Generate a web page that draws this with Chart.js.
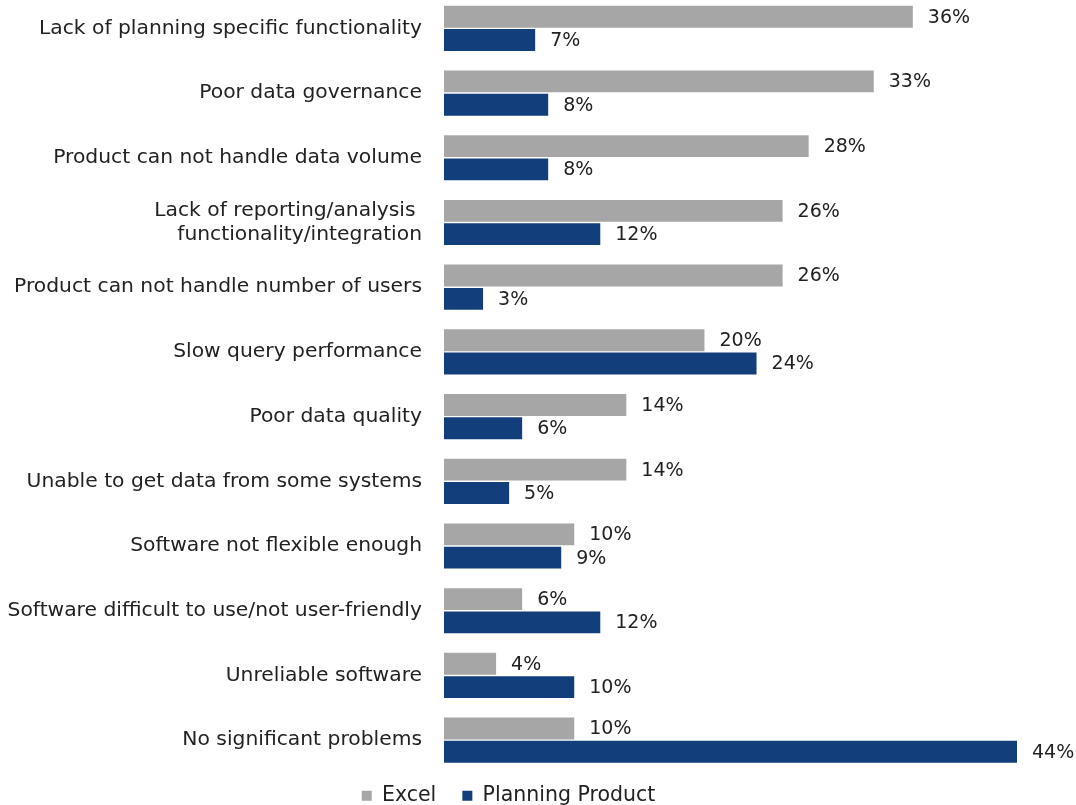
<!DOCTYPE html>
<html>
<head>
<meta charset="utf-8">
<title>Problems with Excel vs Planning Product</title>
<script src="https://cdn.jsdelivr.net/npm/chart.js"></script>
<style>
  body{margin:0;background:#fff;overflow:hidden}
  #wrap{position:absolute;left:0;top:-4px}
</style>
</head>
<body>
<div id="wrap"><canvas id="grafik" width="1076" height="820"></canvas></div>
<script>
// ================= DATA =================
const categories = [
  "Lack of planning specific functionality",
  "Poor data governance",
  "Product can not handle data volume",
  ["Lack of reporting/analysis ", "functionality/integration"],
  "Product can not handle number of users",
  "Slow query performance",
  "Poor data quality",
  "Unable to get data from some systems",
  "Software not flexible enough",
  "Software difficult to use/not user-friendly",
  "Unreliable software",
  "No significant problems"
];
const excelValues = [36, 33, 28, 26, 26, 20, 14, 14, 10, 6, 4, 10];
const planningValues = [7, 8, 8, 12, 3, 24, 6, 5, 9, 12, 10, 44];
const seriesNames = ["Excel", "Planning Product"];

const FONT = "'DejaVu Sans', sans-serif";

// ================= LABEL PERSEN =================
const labelPersen = {
  id: "labelPersen",
  afterDatasetsDraw(chart) {
    const ctx = chart.ctx;
    ctx.save();
    ctx.font = "19px " + FONT;
    ctx.fillStyle = "#222";
    ctx.textAlign = "left";
    ctx.textBaseline = "middle";
    chart.data.datasets.forEach((ds, i) => {
      chart.getDatasetMeta(i).data.forEach((bar, j) => {
        ctx.fillText(ds.data[j] + "%", bar.x + 15, bar.y + 1);
      });
    });
    ctx.restore();
  }
};

// ================= GRAFIK =================
new Chart(document.getElementById("grafik"), {
  type: "bar",
  data: {
    labels: categories,
    datasets: [
      {label: seriesNames[0], data: excelValues, backgroundColor: "#a6a6a6"},
      {label: seriesNames[1], data: planningValues, backgroundColor: "#123f7b"}
    ]
  },
  options: {
    indexAxis: "y",
    responsive: false,
    animation: false,
    categoryPercentage: 0.72,
    barPercentage: 0.94,
    layout: {padding: {left: 0, right: 59, top: 0, bottom: 0}},
    scales: {
      x: {display: false, min: 0, max: 44},
      y: {
        grid: {display: false, drawTicks: false},
        border: {display: false},
        ticks: {color: "#222", font: {size: 20.3, family: FONT}, padding: 22},
        afterFit(scale) {
          scale.width = 444;
          scale.paddingTop = 0;
          scale.paddingBottom = 0;
        }
      }
    },
    plugins: {
      legend: {
        position: "bottom",
        labels: {
          color: "#222",
          font: {size: 20.5, family: FONT},
          boxWidth: 10,
          boxHeight: 10,
          padding: 13,
          generateLabels(chart) {
            const items = Chart.defaults.plugins.legend.labels.generateLabels(chart);
            items[0].text = items[0].text + "  ";
            return items;
          }
        }
      },
      tooltip: {enabled: false}
    }
  },
  plugins: [labelPersen]
});
</script>
</body>
</html>
